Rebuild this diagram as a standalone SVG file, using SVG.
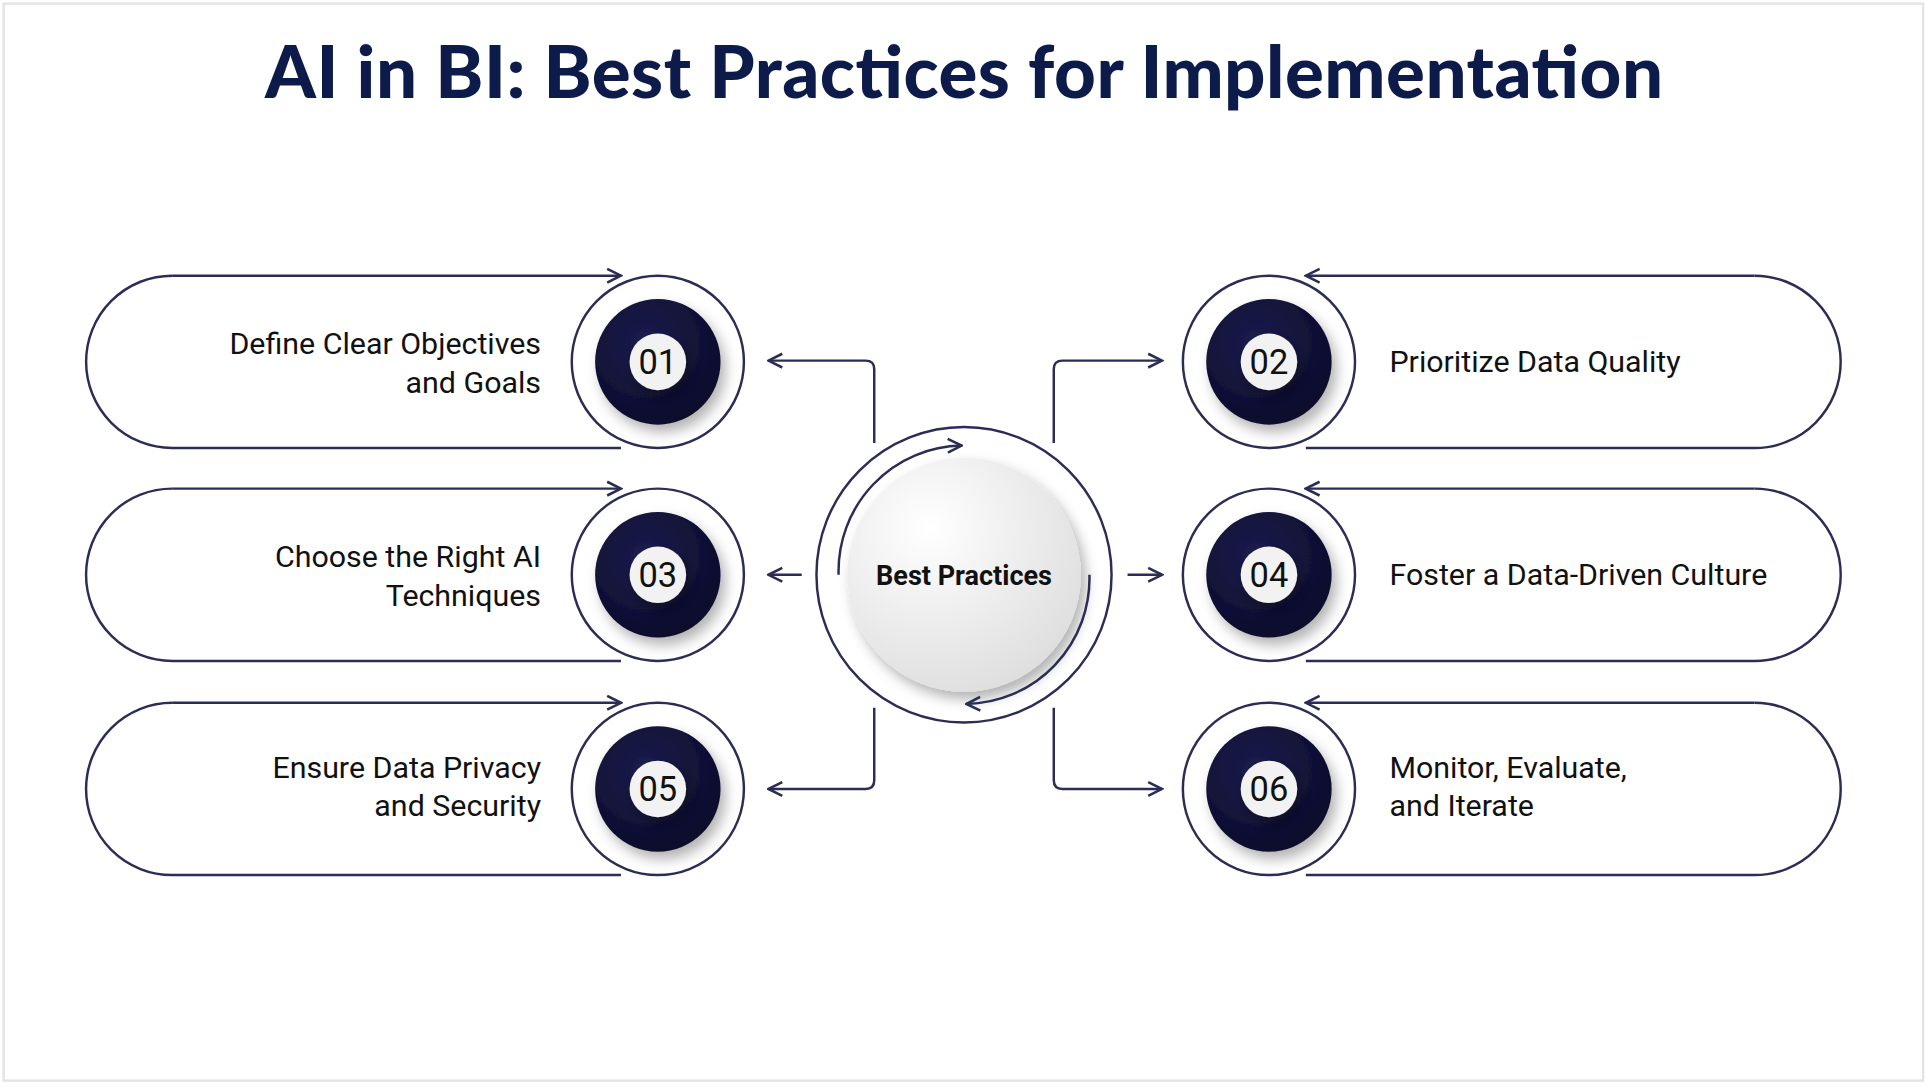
<svg xmlns="http://www.w3.org/2000/svg" width="1928" height="1088" viewBox="0 0 1928 1088">
<defs>
<style>
.ln{fill:none;stroke:#2b2d55;stroke-width:2}
.t{font-family:Roboto,"Liberation Sans",sans-serif;font-size:24.7px;fill:#111}
.n{font-family:Roboto,"Liberation Sans",sans-serif;font-size:28px;fill:#111;text-anchor:middle}
</style>
<marker id="a" viewBox="0 0 10 10" refX="9" refY="5" markerWidth="7" markerHeight="7" orient="auto"><path d="M1,1 L9,5 L1,9" fill="none" stroke="#2b2d55" stroke-width="1.5"/></marker>
<radialGradient id="g" cx="0.35" cy="0.3" r="0.8"><stop offset="0" stop-color="#ffffff"/><stop offset="1" stop-color="#dcdcdc"/></radialGradient>
<radialGradient id="d" cx="0.4" cy="0.35" r="0.7"><stop offset="0" stop-color="#1c1c4e"/><stop offset="1" stop-color="#0b0b2a"/></radialGradient>
<filter id="s" x="-30%" y="-30%" width="160%" height="160%"><feDropShadow dx="4" dy="6" stdDeviation="5" flood-color="#000" flood-opacity="0.3"/></filter>
<g id="badge"><circle r="70" fill="#fff" class="ln"/><circle r="51" fill="url(#d)" filter="url(#s)"/><circle r="23" fill="#f2f2f2" filter="url(#s)"/></g>
</defs>
<rect width="1928" height="1088" fill="#fff"/>
<g transform="scale(1.2296,1.2308)">
<rect x="3" y="3" width="1561" height="875" fill="#fff" stroke="#e4e4e4" stroke-width="2"/>
<text x="784" y="80" text-anchor="middle" textLength="1137" style="font-family:Lato,'Liberation Sans',sans-serif;font-weight:900;font-size:59px;fill:#0d1b4b">AI in BI: Best Practices for Implementation</text>
<g id="connectors">
<path class="ln" d="M711,360 V300 Q711,293 704,293 H625" marker-end="url(#a)"/>
<path class="ln" d="M857,360 V300 Q857,293 864,293 H945" marker-end="url(#a)"/>
<path class="ln" d="M652,467 H625" marker-end="url(#a)"/>
<path class="ln" d="M917,467 H945" marker-end="url(#a)"/>
<path class="ln" d="M711,575 V634 Q711,641 704,641 H625" marker-end="url(#a)"/>
<path class="ln" d="M857,575 V634 Q857,641 864,641 H945" marker-end="url(#a)"/>
</g>
<g id="center">
<circle cx="784" cy="467" r="120" class="ln" fill="#fff"/>
<circle cx="784" cy="467" r="95" fill="url(#g)" filter="url(#s)"/>
<path class="ln" d="M682,467 A102,102 0 0 1 782,362" marker-end="url(#a)"/>
<path class="ln" d="M886,467 A102,102 0 0 1 786,572" marker-end="url(#a)"/>
<text x="784" y="475" text-anchor="middle" style="font-family:Roboto,'Liberation Sans',sans-serif;font-weight:bold;font-size:22px;fill:#111">Best Practices</text>
</g>
<g id="n1"><path class="ln" d="M140,224 A70,70 0 0 0 140,364 H505"/><path class="ln" d="M140,224 H505" marker-end="url(#a)"/><use href="#badge" x="535" y="294"/><text class="n" x="535" y="304">01</text><text class="t" x="440" y="288" text-anchor="end">Define Clear Objectives</text><text class="t" x="440" y="319" text-anchor="end">and Goals</text></g>
<g id="n3"><path class="ln" d="M140,397 A70,70 0 0 0 140,537 H505"/><path class="ln" d="M140,397 H505" marker-end="url(#a)"/><use href="#badge" x="535" y="467"/><text class="n" x="535" y="477">03</text><text class="t" x="440" y="461" text-anchor="end">Choose the Right AI</text><text class="t" x="440" y="492" text-anchor="end">Techniques</text></g>
<g id="n5"><path class="ln" d="M140,571 A70,70 0 0 0 140,711 H505"/><path class="ln" d="M140,571 H505" marker-end="url(#a)"/><use href="#badge" x="535" y="641"/><text class="n" x="535" y="651">05</text><text class="t" x="440" y="632" text-anchor="end">Ensure Data Privacy</text><text class="t" x="440" y="663" text-anchor="end">and Security</text></g>
<g id="n2"><path class="ln" d="M1427,224 A70,70 0 0 1 1427,364 H1062"/><path class="ln" d="M1427,224 H1062" marker-end="url(#a)"/><use href="#badge" x="1032" y="294"/><text class="n" x="1032" y="304">02</text><text class="t" x="1130" y="302">Prioritize Data Quality</text></g>
<g id="n4"><path class="ln" d="M1427,397 A70,70 0 0 1 1427,537 H1062"/><path class="ln" d="M1427,397 H1062" marker-end="url(#a)"/><use href="#badge" x="1032" y="467"/><text class="n" x="1032" y="477">04</text><text class="t" x="1130" y="475">Foster a Data-Driven Culture</text></g>
<g id="n6"><path class="ln" d="M1427,571 A70,70 0 0 1 1427,711 H1062"/><path class="ln" d="M1427,571 H1062" marker-end="url(#a)"/><use href="#badge" x="1032" y="641"/><text class="n" x="1032" y="651">06</text><text class="t" x="1130" y="632">Monitor, Evaluate,</text><text class="t" x="1130" y="663">and Iterate</text></g>
</g>
</svg>
